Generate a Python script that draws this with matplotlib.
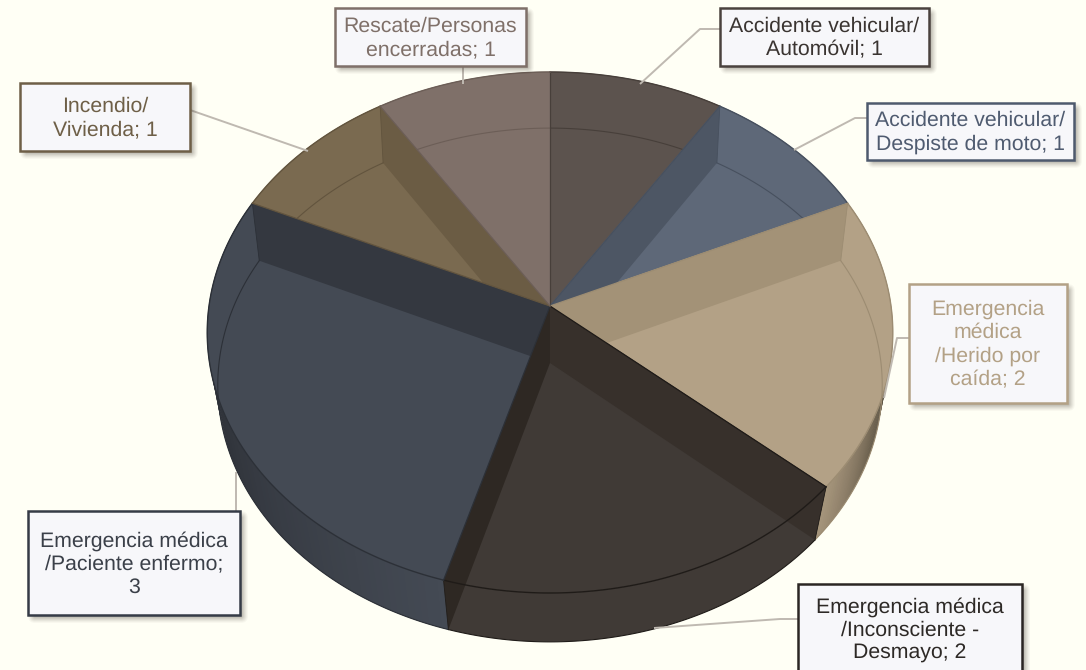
import numpy as np
import matplotlib
matplotlib.use("Agg")
import matplotlib.pyplot as plt
from matplotlib.patches import Polygon, Rectangle, FancyBboxPatch
from matplotlib.colors import to_rgb

plt.rcParams["text.hinting"] = "none"

# datos, en sentido horario desde arriba
categorias = ["Accidente vehicular/\nAutomóvil", "Accidente vehicular/\nDespiste de moto",
              "Emergencia\nmédica\n/Herido por\ncaída", "Emergencia médica\n/Inconsciente -\nDesmayo",
              "Emergencia médica\n/Paciente enfermo", "Incendio/\nVivienda",
              "Rescate/Personas\nencerradas"]
valores = [1, 1, 2, 2, 3, 1, 1]
separadores = ["; ", "; ", "; ", "; ", ";\n", "; ", "; "]

color_cara = ["#5c534e", "#5e6878", "#b3a186", "#403a36", "#444a54", "#7a6a50", "#7f7069"]
color_pared = ["#5c534e", "#4d5664", "#a39277", "#37302b", "#343840", "#6b5c44", "#7f7069"]
color_linea = ["#473f3a", "#47505e", "#9c8c72", "#1f1b18", "#2c3037", "#62543e", "#6c5e57"]
color_texto = ["#3a3431", "#4f5b70", "#b3a186", "#2d2926", "#3b4049", "#6e5f47", "#7f7069"]
color_borde = ["#4a423e", "#4e5a6e", "#b3a186", "#2b2623", "#353b46", "#6e5f47", "#7f7069"]

# cajas de las etiquetas: izq, der, arriba, abajo
cajas = [(720, 929, 8, 66), (867, 1074, 103, 160), (909, 1067, 284, 403),
         (798, 1022, 584, 674), (28, 240, 511, 615), (20, 190, 83, 151), (335, 526, 8, 66)]
guias = [[(720, 29), (700, 29), (640, 84)], [(867, 118), (855, 118), (794, 150)],
         [(909, 338), (897, 338), (884, 398)], [(798, 619), (780, 619), (654, 628)],
         [(236, 511), (236, 472)], [(190, 110), (308, 151)], [(463, 66), (463, 84)]]

fondo = "#fffff5"
# perspectiva de cada cara: centro y, escala x, escala y, k
CARA_SUP = (306, 341, 257.8, 0.1017)
CARA_INF = (363, 331, 255.0, 0.0856)
CX = 550


def proyectar(theta, cara, r=1.0):
    cy, rx, ry, k = cara
    u = r * np.sin(theta)
    v = r * np.cos(theta)
    d = 1 + k * v
    return np.column_stack((CX + rx * u / d, cy - ry * v / d))


def mezclar(c1, c2, t):
    a = np.array(to_rgb(c1))
    b = np.array(to_rgb(c2))
    return tuple(a + (b - a) * t)


fig = plt.figure(figsize=(10.86, 6.70), dpi=100, facecolor=fondo)
ax = fig.add_axes([0, 0, 1, 1])
ax.set_xlim(0, 1086)
ax.set_ylim(670, 0)
ax.axis("off")

acum = np.cumsum([0] + valores) / sum(valores) * 2 * np.pi
apice_sup = proyectar(np.array([0.0]), CARA_SUP, 0.0)[0]
apice_inf = proyectar(np.array([0.0]), CARA_INF, 0.0)[0]

# lado del cilindro; el tostado y el azul llevan degrade
sombra_lado = {2: ("#b3a186", "#4a4234", 2.35, 1.75), 4: ("#444a54", "#2b2e34", 3.42, 4.6)}
for i in range(len(valores)):
    if i in sombra_lado:
        ts = np.linspace(acum[i], acum[i + 1], 90)
        c1, c2, t0, t1 = sombra_lado[i]
        orden = range(len(ts) - 1) if t0 > t1 else range(len(ts) - 2, -1, -1)
        for j in orden:
            # cada tramo pisa al siguiente para que no queden rayas
            tramo = np.linspace(ts[j], ts[min(j + 2, len(ts) - 1)] if t0 > t1 else ts[j + 1], 4)
            if t0 < t1:
                tramo = np.linspace(ts[max(j - 1, 0)], ts[j + 1], 4)
            pts = np.vstack((proyectar(tramo, CARA_SUP), proyectar(tramo[::-1], CARA_INF)))
            col = mezclar(c1, c2, min(max((ts[j] - t0) / (t1 - t0), 0), 1))
            ax.add_patch(Polygon(pts, closed=True, fc=col, ec="none", zorder=2))
    else:
        ts = np.linspace(acum[i], acum[i + 1], 120)
        pts = np.vstack((proyectar(ts, CARA_SUP), proyectar(ts[::-1], CARA_INF)))
        ax.add_patch(Polygon(pts, closed=True, fc=color_cara[i], ec="none", zorder=2))

# caras de arriba
caras = []
for i in range(len(valores)):
    ts = np.linspace(acum[i], acum[i + 1], 120)
    pts = np.vstack((apice_sup, proyectar(ts, CARA_SUP)))
    p = Polygon(pts, closed=True, fc=color_cara[i], ec=color_cara[i], lw=0.5, zorder=3)
    ax.add_patch(p)
    caras.append(p)

# paredes interiores: a la derecha se ve la del inicio de la porcion, a la izquierda la del final
for b in range(1, len(valores)):
    dueno = b if acum[b] < np.pi else b - 1
    t = np.array([acum[b]])
    arriba = proyectar(t, CARA_SUP)[0]
    abajo = proyectar(t, CARA_INF)[0]
    pts = np.vstack((apice_sup, arriba, abajo, apice_inf))
    if dueno == 3:
        # la porcion oscura asoma sobre el lado, no se recorta con su cara
        col = "#2e2823" if b == 4 else color_pared[dueno]
        ax.add_patch(Polygon(pts, closed=True, fc=col, ec="none", zorder=5))
    else:
        pared = Polygon(pts, closed=True, fc=color_pared[dueno], ec="none", zorder=4)
        ax.add_patch(pared)
        pared.set_clip_path(caras[dueno])
    ax.plot([arriba[0], abajo[0]], [arriba[1], abajo[1]], color=color_linea[dueno], lw=0.6, zorder=7)

# arco de abajo visto a traves de la cara
for i in range(len(valores)):
    ts = np.linspace(acum[i], acum[i + 1], 120)
    xy = proyectar(ts, CARA_INF)
    l, = ax.plot(xy[:, 0], xy[:, 1], color=color_linea[i], lw=0.8, zorder=6)
    l.set_clip_path(caras[i])

# bordes de las porciones
for i in range(len(valores)):
    ts = np.linspace(acum[i], acum[i + 1], 120)
    xy = proyectar(ts, CARA_SUP)
    ax.plot(xy[:, 0], xy[:, 1], color=color_linea[i], lw=1.0, zorder=7)
    xy = proyectar(ts, CARA_INF)
    m = np.cos(ts) < 0.3
    if np.any(m):
        ax.plot(xy[m, 0], xy[m, 1], color=color_linea[i], lw=0.8, zorder=2.5)
    p = proyectar(np.array([acum[i]]), CARA_SUP)[0]
    ax.plot([apice_sup[0], p[0]], [apice_sup[1], p[1]], color=color_linea[i], lw=0.9, zorder=7)

# etiquetas
for i in range(len(valores)):
    x0, x1, y0, y1 = cajas[i]
    g = np.array(guias[i])
    ax.plot(g[:, 0], g[:, 1], color="#bfb9b1", lw=1.4, zorder=8, solid_capstyle="butt")
    # sombra difusa
    for d, al in zip(range(7, 0, -1), [0.03, 0.04, 0.05, 0.06, 0.07, 0.08, 0.09]):
        ax.add_patch(FancyBboxPatch((x0 + 4, y0 + 4), x1 - x0, y1 - y0,
                                    boxstyle="round,pad=%d,rounding_size=%d" % (d - 3, d),
                                    fc="#403a30", ec="none", alpha=al, zorder=9))
    ax.add_patch(Rectangle((x0, y0), x1 - x0, y1 - y0, fc="#f7f7fa", ec=color_borde[i],
                           lw=1.8, zorder=10))
    ax.text((x0 + x1) / 2, (y0 + y1) / 2 + 1, categorias[i] + separadores[i] + str(valores[i]),
            ha="center", va="center", ma="center", color=color_texto[i],
            family="Liberation Sans", fontsize=15.3, linespacing=1.25, zorder=11)

fig.savefig("out.png", dpi=100, facecolor=fondo)
